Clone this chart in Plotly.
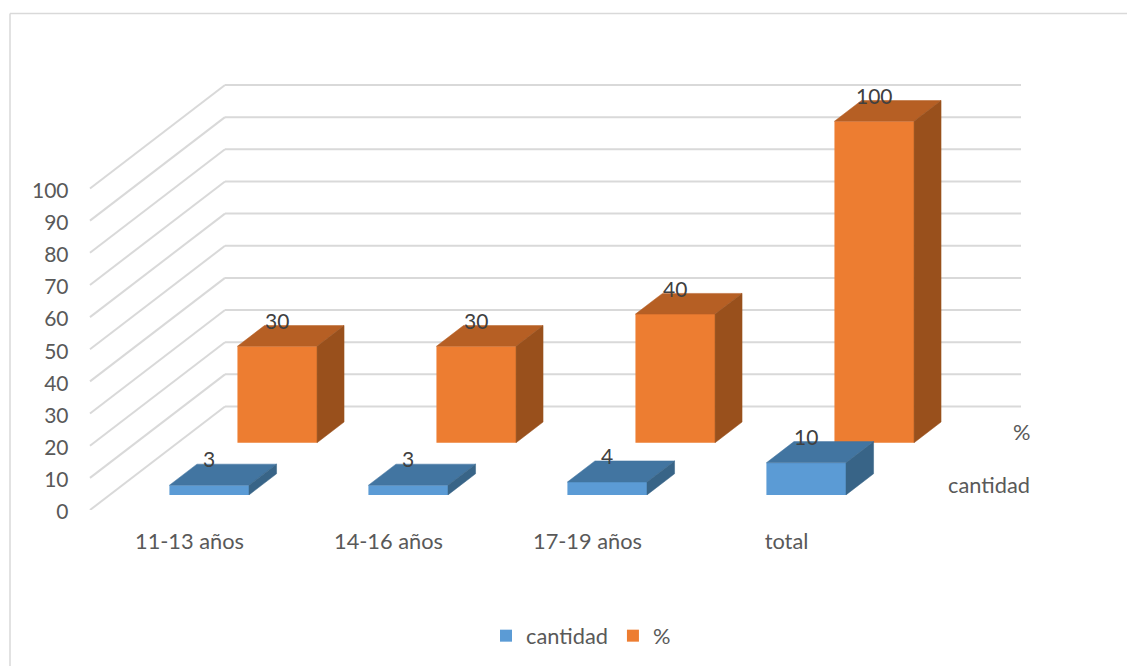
import plotly.graph_objects as go

categories = ["11-13 años", "14-16 años", "17-19 años", "total"]
cantidad = [3, 3, 4, 10]
porcentaje = [30, 30, 40, 100]
y_ticks = list(range(0, 101, 10))
series_names = ["cantidad", "%"]

W, H = 1127, 666
PX_X, PX_Y = 199.0, 3.215      # pixels per category / per value unit
X0_PX, Y0_PX = 189.5, 510.0    # pixel of category 0 / value 0 on the front plane
DX, DY = 135 / PX_X, 103.5 / PX_Y   # oblique shift of the full floor depth
BAR_W = 0.4
DEPTHS = [(0.146, 0.35), (0.65, 0.85)]
FRONT = ["#5B9BD5", "#ED7D31"]
TOP = ["#4275A1", "#B65F24"]
SIDE = ["#386487", "#99501C"]
GRID = "#D9D9D9"
TXT = "#595959"
LBL = "#404040"
FONT = "Lato, Carlito, sans-serif"
FS = 21
FS_CAT = 21.8


def proj(x, v, d):
    return x + DX * d, v + DY * d


fig = go.Figure()

# front faces
for s, vals in enumerate([cantidad, porcentaje]):
    d0 = DEPTHS[s][0]
    fig.add_bar(
        x=[i + DX * d0 for i in range(4)],
        y=vals,
        base=[DY * d0] * 4,
        width=BAR_W,
        name=series_names[s],
        marker=dict(color=FRONT[s], line=dict(width=0)),
        hoverinfo="skip",
    )


def poly(pts, color):
    xs, ys = zip(*pts)
    fig.add_scatter(
        x=list(xs) + [xs[0]], y=list(ys) + [ys[0]], mode="lines", fill="toself",
        fillcolor=color, line=dict(color=color, width=0.5), showlegend=False,
        hoverinfo="skip",
    )


# orange row first, blue row in front of it
for s in [1, 0]:
    vals = [cantidad, porcentaje][s]
    d0, d1 = DEPTHS[s]
    for i, v in enumerate(vals):
        l, r = i - BAR_W / 2, i + BAR_W / 2
        poly([proj(l, v, d0), proj(r, v, d0), proj(r, v, d1), proj(l, v, d1)], TOP[s])
        poly([proj(r, 0, d0), proj(r, v, d0), proj(r, v, d1), proj(r, 0, d1)], SIDE[s])

# data labels
for s, vals in enumerate([cantidad, porcentaje]):
    d0, d1 = DEPTHS[s]
    fig.add_scatter(
        x=[i + DX * d0 for i in range(4)],
        y=[v + DY * d1 + 2 / PX_Y for v in vals],
        mode="text",
        text=[str(v) for v in vals],
        textposition="middle center",
        textfont=dict(family=FONT, size=FS, color=LBL),
        showlegend=False,
        hoverinfo="skip",
    )

# walls
shapes = []
xl, xr = -0.5, 3.5
for t in y_ticks:
    bx, by = proj(xl, t, 1)
    shapes.append(dict(type="line", xref="x", yref="y", x0=xl, y0=t, x1=bx, y1=by,
                       line=dict(color=GRID, width=2), layer="below"))
    ex, ey = proj(xr, t, 1)
    shapes.append(dict(type="line", xref="x", yref="y", x0=bx, y0=by, x1=ex, y1=ey,
                       line=dict(color=GRID, width=2), layer="below"))
# chart frame
shapes.append(dict(type="line", xref="paper", yref="paper", x0=10 / W, x1=1, y0=1 - 13.5 / H, y1=1 - 13.5 / H,
                   line=dict(color=GRID, width=1.5), layer="below"))
shapes.append(dict(type="line", xref="paper", yref="paper", x0=10 / W, x1=10 / W, y0=0, y1=1 - 13.5 / H,
                   line=dict(color=GRID, width=1.5), layer="below"))

# depth-axis labels
annots = [
    dict(x=(1032 - X0_PX) / PX_X, y=(Y0_PX - 484.5) / PX_Y, text=series_names[0]),
    dict(x=(1032 - X0_PX) / PX_X, y=(Y0_PX - 431.5) / PX_Y, text=series_names[1]),
]
for a in annots:
    a.update(xref="x", yref="y", xanchor="right", yanchor="middle", showarrow=False,
             font=dict(family=FONT, size=FS_CAT, color=TXT))

fig.update_layout(
    template=None,
    width=W, height=H,
    margin=dict(l=0, r=0, t=0, b=0),
    paper_bgcolor="white", plot_bgcolor="rgba(0,0,0,0)",
    barmode="overlay",
    shapes=shapes,
    annotations=annots,
    font=dict(family=FONT, size=FS, color=TXT),
    xaxis=dict(
        automargin=False,
        range=[-X0_PX / PX_X, (W - X0_PX) / PX_X],
        tickmode="array", tickvals=list(range(4)), ticktext=categories,
        showgrid=False, zeroline=False, showline=False,
        ticks="outside", ticklen=12, tickcolor="rgba(0,0,0,0)",
        tickfont=dict(family=FONT, size=FS_CAT, color=TXT),
    ),
    yaxis=dict(
        automargin=False,
        domain=[(H - Y0_PX) / H, 1],
        range=[0, Y0_PX / PX_Y],
        anchor="free", position=68.5 / W, side="left",
        tickmode="array", tickvals=y_ticks, ticktext=[str(t) for t in y_ticks],
        showgrid=False, zeroline=False, showline=False,
        ticks="", ticklabelshift=2,
        tickfont=dict(family=FONT, size=FS, color=TXT),
    ),
    legend=dict(
        orientation="h", x=581 / W, xanchor="center", y=(H - 636) / H, yanchor="middle",
        font=dict(family=FONT, size=FS_CAT, color=TXT), bgcolor="rgba(0,0,0,0)",
        itemwidth=30, traceorder="normal",
    ),
    showlegend=True,
)

fig.write_html("out.html", config={"displayModeBar": False},
               post_script="document.body.style.margin='0';document.body.style.overflow='hidden';")
